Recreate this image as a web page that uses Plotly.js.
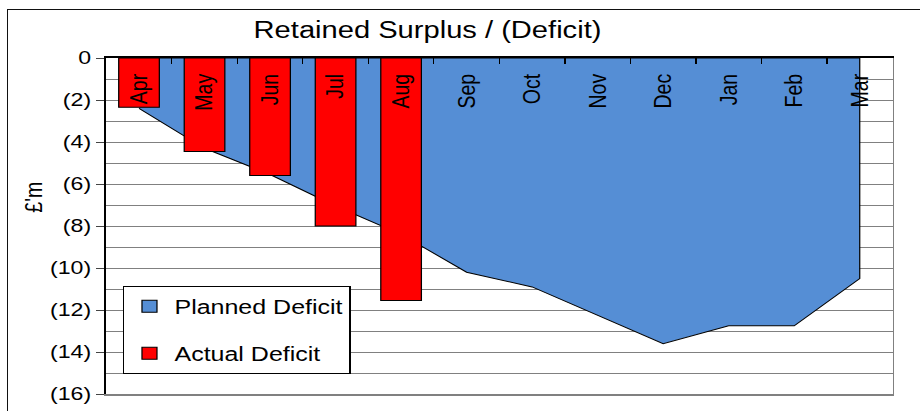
<!DOCTYPE html>
<html>
<head>
<meta charset="utf-8">
<script src="https://cdn.plot.ly/plotly-3.0.1.min.js"></script>
<style>
  html, body { margin: 0; padding: 0; background: #ffffff; overflow: hidden; width: 920px; height: 411px; }
  #chart { position: absolute; left: 0; top: 0; width: 736px; height: 411px; transform: scaleX(1.25); transform-origin: 0 0; }
  #frame { position: absolute; left: 7px; top: 9px; width: 1000px; height: 1000px; border-left: 1.5px solid #111; border-top: 1.5px solid #111; background: transparent; pointer-events: none; }
</style>
</head>
<body>
<div id="chart"></div>
<div id="frame"></div>
<script>
// ---- data (values in £m, deficits negative) ----
const months = ['Apr', 'May', 'Jun', 'Jul', 'Aug', 'Sep', 'Oct', 'Nov', 'Dec', 'Jan', 'Feb', 'Mar'];
const plannedDeficit = [-2.4, -4.3, -5.55, -7.05, -8.4, -10.2, -10.9, -12.25, -13.6, -12.75, -12.75, -10.5];
const actualMonths = ['Apr', 'May', 'Jun', 'Jul', 'Aug'];
const actualDeficit = [-2.35, -4.45, -5.6, -8.0, -11.55];
const yTickVals = [0, -2, -4, -6, -8, -10, -12, -14, -16];
const yTickText = ['0', '(2)', '(4)', '(6)', '(8)', '(10)', '(12)', '(14)', '(16)'];
const baseline = 0;

const FONT = '"Liberation Sans", Arial, Helvetica, sans-serif';
const BLUE = '#558ED5';
const RED = '#FF0000';
const GRID = '#808080';

// planned deficit drawn as a closed filled area from the baseline
const areaX = months.concat([months[months.length - 1], months[0]]);
const areaY = plannedDeficit.concat([baseline, baseline]);

const traces = [
  {
    type: 'scatter', mode: 'lines', name: 'Planned Deficit',
    x: areaX, y: areaY, xaxis: 'x', yaxis: 'y',
    fill: 'toself', fillcolor: BLUE,
    line: { color: '#000000', width: 1 },
    showlegend: false, legendgroup: 'planned', hoverinfo: 'skip'
  },
  {
    // legend entry for the planned area (square swatch like the original)
    type: 'bar', name: 'Planned Deficit', x: [null], y: [null],
    xaxis: 'x2', yaxis: 'y2', legendgroup: 'planned',
    marker: { color: BLUE, line: { color: '#000000', width: 1 } }
  },
  {
    type: 'bar', name: 'Actual Deficit',
    x: actualMonths, y: actualDeficit, xaxis: 'x2', yaxis: 'y2',
    width: 0.62, legendgroup: 'actual',
    marker: { color: RED, line: { color: '#000000', width: 1 } },
    hoverinfo: 'skip'
  }
];

const layout = {
  width: 736, height: 411,
  margin: { l: 84.8, r: 21.6, t: 58, b: 17, pad: 0 },
  paper_bgcolor: 'rgba(0,0,0,0)', plot_bgcolor: '#ffffff',
  font: { family: FONT, color: '#000000' },
  barmode: 'overlay',
  showlegend: true,
  title: {
    text: 'Retained Surplus / (Deficit)',
    font: { family: FONT, size: 23.3, color: '#000000' },
    xref: 'container', x: 342 / 736, xanchor: 'center',
    yref: 'container', y: 1 - 29.5 / 411, yanchor: 'middle'
  },
  xaxis: {
    type: 'category', categoryorder: 'array', categoryarray: months,
    range: [-0.5, months.length - 0.5],
    side: 'bottom', anchor: 'y',
    showline: true, linecolor: GRID, linewidth: 1.5,
    ticks: '', showticklabels: false, showgrid: false, zeroline: false, fixedrange: true
  },
  yaxis: {
    range: [-16, 0], anchor: 'x', side: 'left',
    tickmode: 'array', tickvals: yTickVals, ticktext: yTickText,
    tickfont: { family: FONT, size: 18.5, color: '#000000' },
    ticks: 'outside', ticklen: 6.4, tickwidth: 1, tickcolor: '#444444',
    ticklabelstandoff: 6.5,
    showline: true, linecolor: '#000000', linewidth: 2,
    showgrid: true, gridcolor: GRID, gridwidth: 1,
    minor: { tickmode: 'linear', tick0: 0, dtick: 1, showgrid: true, gridcolor: GRID, gridwidth: 1, ticks: '' },
    zeroline: false, fixedrange: true
  },
  xaxis2: {
    type: 'category', categoryorder: 'array', categoryarray: months,
    range: [-0.5, months.length - 0.5],
    overlaying: 'x', anchor: 'y2', side: 'top',
    showline: true, linecolor: '#000000', linewidth: 2,
    ticks: 'inside', tickson: 'boundaries', ticklen: 6, tickwidth: 1, tickcolor: '#000000',
    ticklabelposition: 'inside', tickangle: -90, ticklabelstandoff: 3.5,
    tickfont: { family: FONT, size: 19.5, color: '#000000' },
    showgrid: false, zeroline: false, fixedrange: true
  },
  yaxis2: {
    range: [-16, 0], overlaying: 'y', anchor: 'x2', side: 'right',
    showline: true, linecolor: GRID, linewidth: 1.5,
    ticks: '', showticklabels: false, showgrid: false, zeroline: false, fixedrange: true
  },
  legend: {
    x: 0.0216, y: 0.3223, xanchor: 'left', yanchor: 'top',
    xref: 'paper', yref: 'paper',
    bgcolor: '#ffffff', bordercolor: '#000000', borderwidth: 1,
    font: { family: FONT, size: 20, color: '#000000' },
    traceorder: 'grouped', tracegroupgap: 18
  },
  annotations: [
    {
      text: "£'m", textangle: -90, showarrow: false,
      xref: 'paper', yref: 'paper',
      x: (26.4 - 84.8) / 629.6, y: 1 - (197 - 58) / 336,
      xanchor: 'center', yanchor: 'middle',
      font: { family: FONT, size: 19.5, color: '#000000' }
    }
  ]
};

Plotly.newPlot('chart', traces, layout, { staticPlot: true, displayModeBar: false });
</script>
</body>
</html>
